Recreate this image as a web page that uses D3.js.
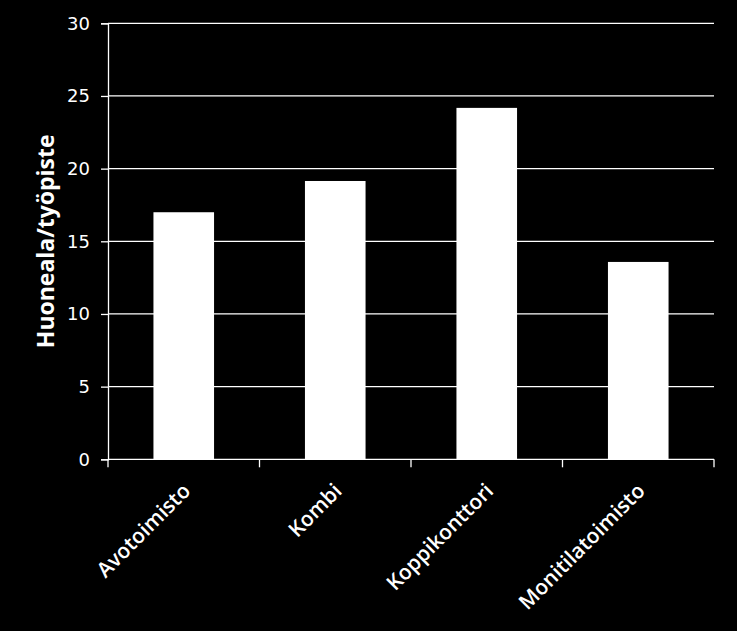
<!DOCTYPE html>
<html>
<head>
<meta charset="utf-8">
<script src="https://cdn.jsdelivr.net/npm/d3@7"></script>
<style>
  html, body { margin: 0; padding: 0; background: #000; }
  svg { display: block; }
</style>
</head>
<body>
<div id="chart"></div>
<script>
// office types and floor area per workstation
const categories = ["Avotoimisto", "Kombi", "Koppikonttori", "Monitilatoimisto"];
const values = [17.0, 19.15, 24.18, 13.58];
const yTicks = [0, 5, 10, 15, 20, 25, 30];
const yTitle = "Huoneala/työpiste";

const width = 737;
const height = 631;
const margin = { top: 23, right: 23, bottom: 172, left: 108 };

const svg = d3.select("#chart").append("svg")
    .attr("width", width)
    .attr("height", height)
    .style("background", "#000");

const x = d3.scaleBand()
    .domain(categories)
    .range([margin.left, width - margin.right])
    .paddingInner(0.6)
    .paddingOuter(0.3);

const y = d3.scaleLinear()
    .domain([0, 30])
    .range([height - margin.bottom + 0.3, margin.top + 0.3]);

// y axis
const yAxis = svg.append("g")
    .attr("transform", `translate(${margin.left},0)`)
    .call(d3.axisLeft(y).tickValues(yTicks).tickSize(7).tickPadding(11));

yAxis.select(".domain").attr("stroke", "#fff").attr("stroke-width", 1.3);
yAxis.selectAll(".tick line").attr("stroke", "#fff").attr("stroke-width", 1.3);
yAxis.selectAll(".tick text")
    .attr("fill", "#fff")
    .attr("font-family", "DejaVu Sans, sans-serif")
    .attr("font-size", 18);

// gridlines
svg.append("g")
    .selectAll("line")
    .data(yTicks.filter(d => d > 0))
    .join("line")
    .attr("x1", margin.left)
    .attr("x2", width - margin.right)
    .attr("y1", d => y(d))
    .attr("y2", d => y(d))
    .attr("stroke", "#fff")
    .attr("stroke-width", 1.3);

// bars
svg.append("g")
    .selectAll("rect")
    .data(values)
    .join("rect")
    .attr("x", (d, i) => x(categories[i]))
    .attr("y", d => y(d))
    .attr("width", x.bandwidth())
    .attr("height", d => y(0) - y(d))
    .attr("fill", "#fff");

// x axis with ticks at band edges
const edges = d3.range(categories.length + 1).map(i => margin.left + i * (width - margin.left - margin.right) / categories.length);

const xAxisG = svg.append("g");
xAxisG.append("line")
    .attr("x1", margin.left)
    .attr("x2", width - margin.right)
    .attr("y1", y(0))
    .attr("y2", y(0))
    .attr("stroke", "#fff")
    .attr("stroke-width", 1.3);

xAxisG.selectAll("line.tick")
    .data(edges)
    .join("line")
    .attr("class", "tick")
    .attr("x1", d => d)
    .attr("x2", d => d)
    .attr("y1", y(0))
    .attr("y2", y(0) + 8)
    .attr("stroke", "#fff")
    .attr("stroke-width", 1.3);

xAxisG.selectAll("text")
    .data(categories)
    .join("text")
    .attr("transform", d => `translate(${x(d) + x.bandwidth() / 2 + 8},${y(0) + 33}) rotate(-45)`)
    .attr("text-anchor", "end")
    .attr("fill", "#fff")
    .attr("font-family", "Open Sans, sans-serif")
    .attr("font-weight", 600)
    .attr("font-size", 21)
    .text(d => d);

// y title
svg.append("text")
    .attr("transform", `translate(54,${(y(0) + y(30)) / 2}) rotate(-90)`)
    .attr("text-anchor", "middle")
    .attr("fill", "#fff")
    .attr("font-family", "Open Sans, sans-serif")
    .attr("font-weight", "bold")
    .attr("font-size", 23)
    .text(yTitle);
</script>
</body>
</html>
